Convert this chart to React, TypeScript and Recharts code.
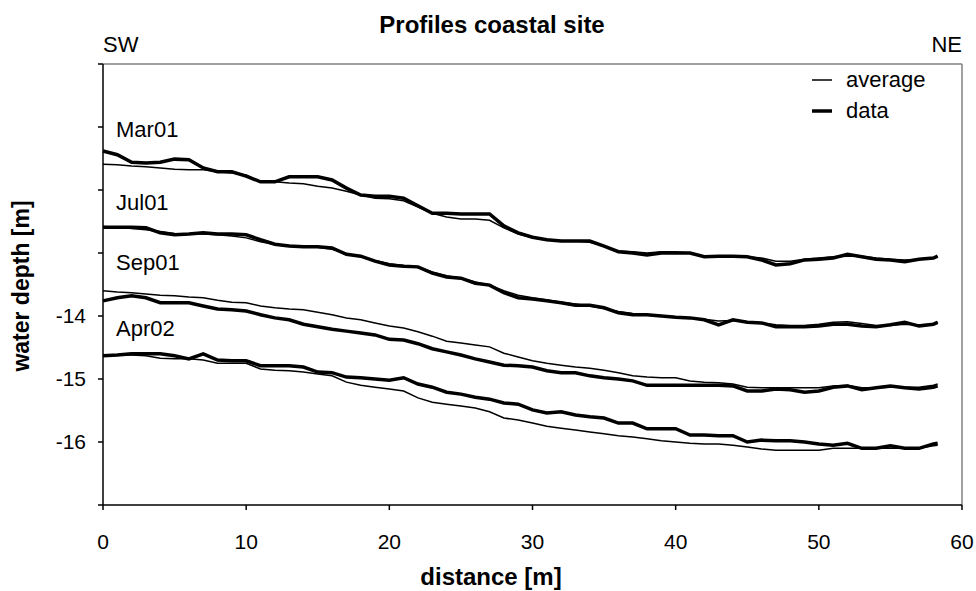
import React from 'react';
import { LineChart, Line, XAxis, YAxis, ReferenceLine, ReferenceDot, Legend } from 'recharts';

const distance = [0,1,2,3,4,5,6,7,8,9,10,11,12,13,14,15,16,17,18,19,20,21,22,23,24,25,26,27,28,29,30,31,32,33,34,35,36,37,38,39,40,41,42,43,44,45,46,47,48,49,50,51,52,53,54,55,56,57,58,58.3];

const mar01Data = [-11.38,-11.44,-11.56,-11.57,-11.56,-11.51,-11.52,-11.65,-11.71,-11.71,-11.78,-11.87,-11.87,-11.79,-11.79,-11.79,-11.84,-11.97,-12.08,-12.10,-12.10,-12.13,-12.25,-12.37,-12.37,-12.38,-12.38,-12.38,-12.57,-12.68,-12.75,-12.79,-12.81,-12.81,-12.81,-12.89,-12.98,-13.00,-13.03,-13.00,-13.00,-13.00,-13.06,-13.05,-13.05,-13.06,-13.11,-13.19,-13.17,-13.11,-13.10,-13.08,-13.02,-13.06,-13.10,-13.11,-13.14,-13.10,-13.08,-13.05];
const mar01Avg = [-11.59,-11.60,-11.62,-11.63,-11.65,-11.67,-11.68,-11.68,-11.71,-11.73,-11.76,-11.87,-11.87,-11.89,-11.90,-11.94,-11.97,-12.02,-12.08,-12.13,-12.14,-12.17,-12.27,-12.37,-12.43,-12.46,-12.46,-12.48,-12.60,-12.70,-12.76,-12.79,-12.81,-12.81,-12.83,-12.89,-12.97,-12.98,-13.00,-12.98,-12.98,-13.00,-13.05,-13.05,-13.05,-13.06,-13.08,-13.13,-13.13,-13.10,-13.08,-13.06,-13.05,-13.05,-13.08,-13.10,-13.11,-13.10,-13.08,-13.06];

const jul01Data = [-12.59,-12.59,-12.59,-12.60,-12.68,-12.71,-12.70,-12.68,-12.70,-12.70,-12.71,-12.79,-12.86,-12.89,-12.90,-12.90,-12.92,-13.02,-13.05,-13.13,-13.19,-13.21,-13.22,-13.32,-13.38,-13.40,-13.48,-13.51,-13.63,-13.71,-13.73,-13.76,-13.79,-13.83,-13.83,-13.87,-13.95,-13.98,-13.98,-14.00,-14.02,-14.03,-14.06,-14.14,-14.06,-14.10,-14.11,-14.17,-14.17,-14.17,-14.16,-14.13,-14.13,-14.16,-14.17,-14.14,-14.10,-14.16,-14.13,-14.10];
const jul01Avg = [-12.58,-12.59,-12.61,-12.63,-12.66,-12.69,-12.70,-12.70,-12.71,-12.73,-12.76,-12.82,-12.86,-12.88,-12.90,-12.91,-12.94,-13.01,-13.06,-13.12,-13.17,-13.20,-13.23,-13.30,-13.36,-13.40,-13.46,-13.51,-13.60,-13.67,-13.71,-13.74,-13.78,-13.81,-13.84,-13.88,-13.93,-13.96,-13.98,-14.00,-14.01,-14.03,-14.05,-14.08,-14.07,-14.09,-14.11,-14.14,-14.15,-14.15,-14.13,-14.10,-14.09,-14.12,-14.15,-14.15,-14.13,-14.14,-14.13,-14.10];

const sep01Data = [-13.76,-13.71,-13.68,-13.71,-13.79,-13.79,-13.79,-13.84,-13.89,-13.90,-13.92,-13.98,-14.03,-14.06,-14.13,-14.17,-14.21,-14.24,-14.27,-14.30,-14.37,-14.38,-14.44,-14.52,-14.57,-14.62,-14.68,-14.73,-14.78,-14.79,-14.81,-14.87,-14.90,-14.90,-14.95,-14.98,-15.00,-15.03,-15.10,-15.10,-15.10,-15.10,-15.10,-15.10,-15.11,-15.19,-15.19,-15.16,-15.17,-15.21,-15.19,-15.13,-15.11,-15.17,-15.14,-15.11,-15.14,-15.16,-15.13,-15.11];
const sep01Avg = [-13.60,-13.62,-13.63,-13.65,-13.67,-13.68,-13.70,-13.71,-13.75,-13.78,-13.79,-13.84,-13.87,-13.89,-13.90,-13.94,-13.98,-14.03,-14.06,-14.11,-14.16,-14.19,-14.25,-14.32,-14.40,-14.43,-14.46,-14.49,-14.59,-14.65,-14.71,-14.75,-14.78,-14.81,-14.83,-14.86,-14.90,-14.95,-14.97,-14.98,-14.98,-15.03,-15.05,-15.06,-15.08,-15.13,-15.14,-15.14,-15.14,-15.14,-15.14,-15.11,-15.10,-15.14,-15.14,-15.13,-15.13,-15.13,-15.10,-15.08];

const apr02Data = [-14.63,-14.62,-14.60,-14.60,-14.60,-14.63,-14.68,-14.60,-14.70,-14.71,-14.71,-14.79,-14.79,-14.79,-14.81,-14.89,-14.90,-14.97,-14.98,-15.00,-15.02,-14.98,-15.08,-15.13,-15.21,-15.24,-15.29,-15.32,-15.38,-15.40,-15.49,-15.54,-15.52,-15.57,-15.60,-15.62,-15.70,-15.70,-15.79,-15.79,-15.79,-15.89,-15.89,-15.90,-15.90,-16.00,-15.97,-15.98,-15.98,-16.00,-16.03,-16.05,-16.02,-16.10,-16.10,-16.06,-16.10,-16.10,-16.03,-16.02];
const apr02Avg = [-14.63,-14.62,-14.62,-14.63,-14.67,-14.68,-14.68,-14.70,-14.75,-14.75,-14.75,-14.84,-14.86,-14.87,-14.89,-14.92,-14.95,-15.05,-15.10,-15.13,-15.16,-15.19,-15.30,-15.37,-15.40,-15.43,-15.46,-15.52,-15.62,-15.65,-15.70,-15.75,-15.78,-15.81,-15.84,-15.87,-15.90,-15.92,-15.95,-15.98,-16.00,-16.02,-16.03,-16.03,-16.05,-16.08,-16.11,-16.13,-16.13,-16.13,-16.13,-16.10,-16.10,-16.10,-16.10,-16.10,-16.10,-16.10,-16.06,-16.05];

const profileNames = ['Mar01', 'Jul01', 'Sep01', 'Apr02'];
const profileLabelX = [0.56, 0.56, 0.56, 0.56];
const profileLabelY = [-11.03, -12.19, -13.14, -14.19];
const xTicks = [0, 10, 20, 30, 40, 50, 60];
const yTicks = [-17, -16, -15, -14, -13, -12, -11, -10];
const yLabelled = [-16, -15, -14];
const legendNames = ['average', 'data'];

const rows = distance.map((x, i) => ({
  x,
  mar01: mar01Data[i], mar01Avg: mar01Avg[i],
  jul01: jul01Data[i], jul01Avg: jul01Avg[i],
  sep01: sep01Data[i], sep01Avg: sep01Avg[i],
  apr02: apr02Data[i], apr02Avg: apr02Avg[i],
}));

const FONT = '"Liberation Sans", Arial, Helvetica, sans-serif';

const seriesKeys = [
  ['mar01Avg', 'mar01'],
  ['jul01Avg', 'jul01'],
  ['sep01Avg', 'sep01'],
  ['apr02Avg', 'apr02'],
];

const renderLegend = () => (
  <div style={{ fontFamily: FONT, fontSize: 22, color: '#000', lineHeight: '31px' }}>
    {legendNames.map((n, i) => (
      <div key={n} style={{ display: 'flex', alignItems: 'center', height: 31 }}>
        <svg width={26} height={10} style={{ marginRight: 8 }}>
          <line x1={0} x2={20} y1={5} y2={5} stroke="#000" strokeWidth={i === 0 ? 1.5 : 3.5} />
        </svg>
        <span>{n}</span>
      </div>
    ))}
  </div>
);

export default function App() {
  return (
    <div style={{ position: 'absolute', left: 0, top: 0, width: 976, height: 591, background: '#fff', fontFamily: FONT }}>
      <LineChart width={976} height={591} data={rows} margin={{ top: 64, right: 14, bottom: 56, left: 43 }}>
        <XAxis
          type="number"
          dataKey="x"
          domain={[0, 60]}
          ticks={xTicks}
          height={30}
          tickSize={5}
          tickMargin={24}
          tickLine={{ stroke: '#000', strokeWidth: 1.5 }}
          axisLine={{ stroke: '#000', strokeWidth: 1.5 }}
          tick={{ fill: '#000', fontSize: 21, fontFamily: FONT }}
          interval={0}
        />
        <YAxis
          type="number"
          domain={[-17, -10]}
          ticks={yTicks}
          width={60}
          tickSize={5}
          tickMargin={12}
          interval={0}
          tickFormatter={(v: number) => (yLabelled.includes(v) ? String(v) : '')}
          tickLine={{ stroke: '#000', strokeWidth: 1.5 }}
          axisLine={{ stroke: '#000', strokeWidth: 1.5 }}
          tick={{ fill: '#000', fontSize: 21, fontFamily: FONT }}
        />
        <ReferenceLine y={-10} stroke="#808080" strokeWidth={1.5} />
        <ReferenceLine x={60} stroke="#808080" strokeWidth={1.5} />
        {seriesKeys.map(([avg, dat]) => (
          <Line key={avg} type="linear" dataKey={avg} stroke="#000" strokeWidth={1.5} dot={false} isAnimationActive={false} legendType="none" />
        ))}
        {seriesKeys.map(([avg, dat]) => (
          <Line key={dat} type="linear" dataKey={dat} stroke="#000" strokeWidth={3.5} dot={false} isAnimationActive={false} legendType="none" />
        ))}
        {profileNames.map((n, i) => (
          <ReferenceDot
            key={n}
            x={profileLabelX[i]}
            y={profileLabelY[i]}
            r={0}
            fill="none"
            stroke="none"
            label={{ value: n, position: 'right', offset: 5, fill: '#000', fontSize: 22, fontFamily: FONT }}
          />
        ))}
        <Legend
          layout="vertical"
          align="center"
          verticalAlign="middle"
          content={renderLegend}
          wrapperStyle={{ left: 812, top: 64, width: 130, height: 70 }}
        />
      </LineChart>
      <svg width={976} height={591} style={{ position: 'absolute', left: 0, top: 0, pointerEvents: 'none' }}>
        <text x={492} y={33} textAnchor="middle" fontSize={24} fontWeight="bold" fontFamily={FONT} fill="#000">Profiles coastal site</text>
        <text x={103} y={52} textAnchor="start" fontSize={22} fontFamily={FONT} fill="#000">SW</text>
        <text x={962} y={52} textAnchor="end" fontSize={22} fontFamily={FONT} fill="#000">NE</text>
        <text x={491} y={585} textAnchor="middle" fontSize={24} fontWeight="bold" fontFamily={FONT} fill="#000">distance [m]</text>
        <text x={29} y={286} textAnchor="middle" fontSize={23} fontWeight="bold" fontFamily={FONT} fill="#000" transform="rotate(-90 29 286)">water depth [m]</text>
      </svg>
    </div>
  );
}
